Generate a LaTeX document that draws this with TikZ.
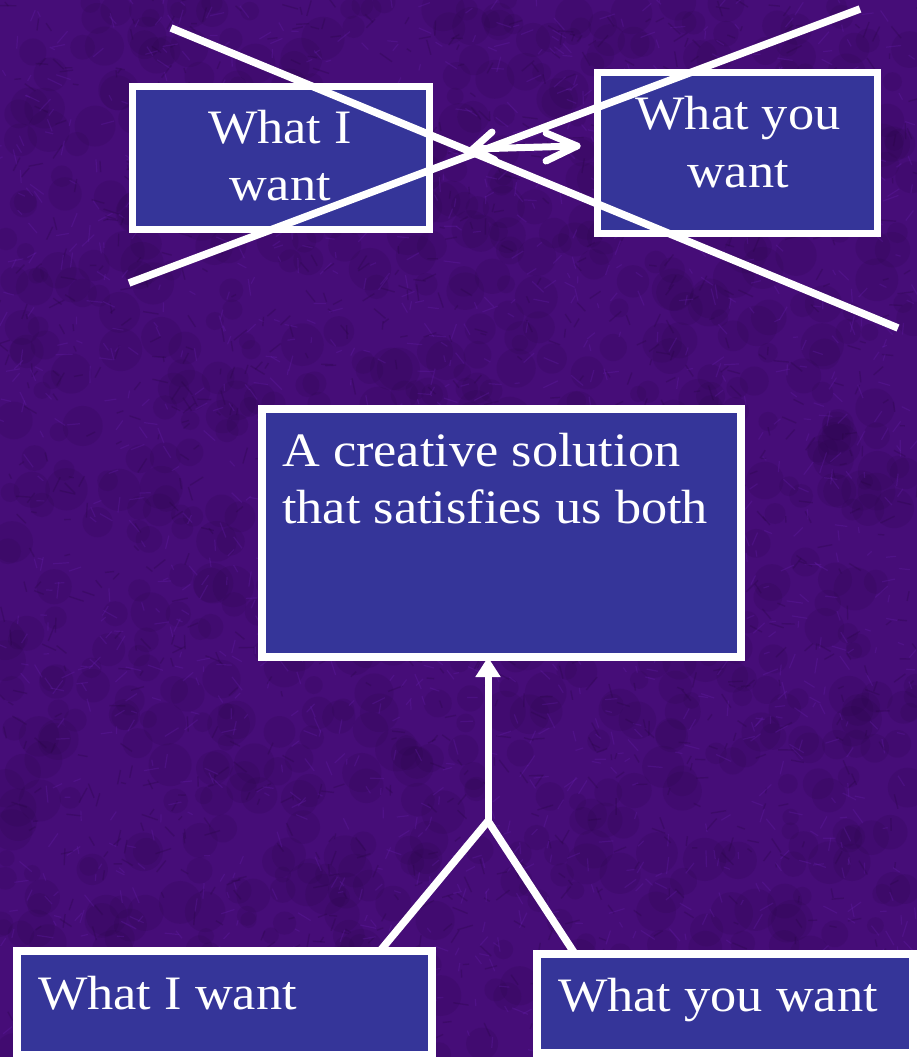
\documentclass[tikz,border=0pt]{standalone}
\usepackage{fontspec}
\setmainfont[FakeStretch=1.09]{Liberation Serif}
\usetikzlibrary{arrows.meta}
\definecolor{bgpurple}{RGB}{70,13,120}
\definecolor{bgdark}{RGB}{36,4,62}
\definecolor{bglight}{RGB}{100,30,170}
\definecolor{boxblue}{RGB}{53,53,153}
\tikzset{
  box/.style={draw=white, fill=boxblue, inner sep=0pt, outer sep=0pt},
  label/.style={text=white, inner sep=0pt, font=\fontsize{48}{57}\selectfont},
  wline/.style={draw=white, line width=7.5pt},
  headline/.style={draw=white, line width=7pt, line cap=round, line join=round},
}
\begin{document}
\begin{tikzpicture}[x=1pt, y=-1pt]
  % canvas
  \useasboundingbox (0,0) rectangle (917,1057);
  \fill[bgpurple] (0,0) rectangle (917,1057);
  % fibrous mottled texture
  \pgfmathsetseed{11}
  \begin{scope}
    \clip (0,0) rectangle (917,1057);
    \foreach \i in {1,...,900} {
      \pgfmathsetmacro{\px}{rnd*917}
      \pgfmathsetmacro{\py}{rnd*1057}
      \pgfmathsetmacro{\rr}{8+rnd*14}
      \fill[bgdark, opacity=0.12] (\px,\py) circle[radius=\rr];
    }
    \foreach \i in {1,...,2600} {
      \pgfmathsetmacro{\px}{rnd*917}
      \pgfmathsetmacro{\py}{rnd*1057}
      \pgfmathsetmacro{\ang}{rnd*360}
      \pgfmathsetmacro{\len}{5+rnd*12}
      \pgfmathsetmacro{\pick}{rnd}
      \ifdim\pick pt<0.55pt
        \draw[bglight, opacity=0.3, line width=1.2pt] (\px,\py) -- ++(\ang:\len);
      \else
        \draw[bgdark, opacity=0.25, line width=1.4pt] (\px,\py) -- ++(\ang:\len);
      \fi
    }
  \end{scope}

  % top row: the two positions
  \node[box, line width=7pt, minimum width=297pt, minimum height=143pt] (A) at (281,158) {};
  \node[box, line width=7pt, minimum width=280pt, minimum height=161pt] (B) at (737.5,153) {};
  \node[label, anchor=base] (a1) at (280,143) {What I};
  \node[label, anchor=base] (a2) at (280,200) {want};
  \node[label, anchor=base] (b1) at (738,129) {What you};
  \node[label, anchor=base] (b2) at (738,187) {want};

  % two-way arrow between them, open chevron heads
  \coordinate (arrL) at (473,149);
  \coordinate (arrR) at (577,146);
  \draw[headline] (arrL) -- (arrR);
  \draw[headline] (arrR) ++(-31,-13) -- (arrR) -- ++(-31,15);
  \draw[headline] (arrL) ++(19,-17) -- (arrL) -- ++(22,11);

  % crossing-out strokes
  \coordinate (x1s) at (171,28);
  \coordinate (x1e) at (898,328);
  \coordinate (x2s) at (129,283);
  \coordinate (x2e) at (860,9);
  \draw[wline] (x1s) -- (x1e);
  \draw[wline] (x2s) -- (x2e);

  % the shared solution
  \node[box, line width=8pt, minimum width=479pt, minimum height=248pt] (C) at (501.5,533) {};
  \node[label, anchor=base west] (c1) at (282,466) {A creative solution};
  \node[label, anchor=base west] (c2) at (282,523) {that satisfies us both};

  % bottom row
  \node[box, line width=8pt, minimum width=415pt, minimum height=104pt] (D) at (224.5,1003) {};
  \node[box, line width=8pt, minimum width=376pt, minimum height=99pt] (E) at (725,1003.5) {};
  \node[label, anchor=base west] (d1) at (38,1009) {What I want};
  \node[label, anchor=base west] (e1) at (558,1011) {What you want};

  % merging connectors
  \coordinate (junc) at (488,821);
  \draw[wline] ([xshift=363pt]D.north west) -- (junc);
  \draw[wline] ([xshift=38pt]E.north west) -- (junc);
  \draw[white, line width=7pt, -{Triangle[length=20pt,width=24pt]}]
        (junc) -- (junc |- C.south);
\end{tikzpicture}
\end{document}
